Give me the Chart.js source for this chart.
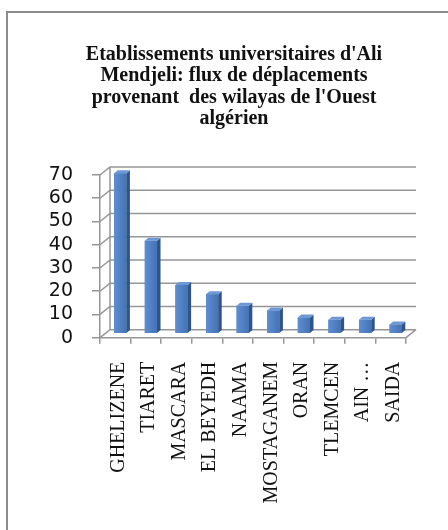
<!DOCTYPE html>
<html>
<head>
<meta charset="utf-8">
<script src="https://cdn.jsdelivr.net/npm/chart.js@4"></script>
<style>
  html, body { margin: 0; padding: 0; background: #fff; }
  canvas { display: block; }
</style>
</head>
<body>
<canvas id="chart" width="448" height="530"></canvas>
<script>
// data
const wilayas = ['GHELIZENE', 'TIARET', 'MASCARA', 'EL BEYEDH', 'NAAMA', 'MOSTAGANEM', 'ORAN', 'TLEMCEN', 'AIN …', 'SAIDA'];
const flux = [69, 40, 21, 17, 12, 10, 7, 6, 6, 4];
const yTicks = [0, 10, 20, 30, 40, 50, 60, 70];
const titleLines = [
    "Etablissements universitaires d'Ali",
    'Mendjeli: flux de déplacements',
    "provenant  des wilayas de l'Ouest",
    'algérien'
];

// 3D depth of the walls and of the bars
const DX = 10, DY = -8;
const BAR_DX = 3.5, BAR_DY = -3;
const GRID = '#969696';

const faux3d = {
    id: 'faux3d',
    beforeDraw(chart) {
        const ctx = chart.ctx;
        // outer frame (only left and top visible)
        ctx.save();
        ctx.fillStyle = '#8c8c8c';
        ctx.fillRect(6, 11, 2, chart.height - 11);
        ctx.fillRect(6, 11, chart.width - 6, 2);
        ctx.restore();
    },
    beforeDatasetsDraw(chart) {
        const { ctx, chartArea: a, scales: { y } } = chart;
        ctx.save();
        ctx.strokeStyle = GRID;
        ctx.lineWidth = 1.5;
        ctx.beginPath();
        yTicks.forEach(v => {
            const py = y.getPixelForValue(v);
            ctx.moveTo(a.left, py);
            ctx.lineTo(a.left + DX, py + DY);
            ctx.lineTo(a.right + DX, py + DY);
        });
        // back wall edge
        ctx.moveTo(a.left + DX, y.getPixelForValue(yTicks[yTicks.length - 1]) + DY);
        ctx.lineTo(a.left + DX, y.getPixelForValue(0) + DY);
        // floor right edge
        ctx.moveTo(a.right, y.getPixelForValue(0));
        ctx.lineTo(a.right + DX, y.getPixelForValue(0) + DY);
        ctx.stroke();
        ctx.restore();

        // bars sit halfway into the depth
        ctx.save();
        ctx.translate(DX / 2, DY / 2);
    },
    afterDatasetsDraw(chart) {
        const ctx = chart.ctx;
        const meta = chart.getDatasetMeta(0);
        meta.data.forEach(bar => {
            const l = bar.x - bar.width / 2, r = bar.x + bar.width / 2;
            const t = bar.y, b = bar.base;
            // front face with a little shading
            const g = ctx.createLinearGradient(l, 0, r, 0);
            g.addColorStop(0, '#5d8ed2');
            g.addColorStop(1, '#4573b4');
            ctx.fillStyle = g;
            ctx.fillRect(l, t, r - l, b - t);
            // side face
            ctx.fillStyle = '#2f5588';
            ctx.beginPath();
            ctx.moveTo(r, t);
            ctx.lineTo(r + BAR_DX, t + BAR_DY);
            ctx.lineTo(r + BAR_DX, b + BAR_DY);
            ctx.lineTo(r, b);
            ctx.closePath();
            ctx.fill();
            // top face
            ctx.fillStyle = '#6c99d6';
            ctx.beginPath();
            ctx.moveTo(l, t);
            ctx.lineTo(l + BAR_DX, t + BAR_DY);
            ctx.lineTo(r + BAR_DX, t + BAR_DY);
            ctx.lineTo(r, t);
            ctx.closePath();
            ctx.fill();
        });
        ctx.restore();
    }
};

new Chart(document.getElementById('chart'), {
    type: 'bar',
    data: {
        labels: wilayas,
        datasets: [{
            data: flux,
            backgroundColor: '#4f81bd',
            borderWidth: 0,
            categoryPercentage: 1,
            barPercentage: 0.4
        }]
    },
    options: {
        responsive: false,
        animation: false,
        events: [],
        layout: {
            padding: { left: 40, right: 20, top: 0, bottom: 0 }
        },
        plugins: {
            legend: { display: false },
            tooltip: { enabled: false },
            title: {
                display: true,
                text: titleLines,
                color: '#111111',
                font: { family: 'Liberation Serif', size: 20, weight: 'bold', lineHeight: 1.07 },
                padding: { top: 44, bottom: 45.4 }
            }
        },
        scales: {
            x: {
                grid: {
                    drawOnChartArea: false,
                    color: GRID,
                    lineWidth: 1.5,
                    tickLength: 6
                },
                border: { color: GRID, width: 1.5 },
                ticks: {
                    autoSkip: false,
                    minRotation: 90,
                    maxRotation: 90,
                    padding: 18,
                    labelOffset: 3,
                    color: '#111111',
                    font: { family: 'Liberation Serif', size: 20 }
                },
                afterFit: s => { s.height = 192.3; }
            },
            y: {
                min: 0,
                max: 70,
                grid: {
                    drawOnChartArea: false,
                    color: GRID,
                    lineWidth: 1.5,
                    tickLength: 8
                },
                border: { color: GRID, width: 1.5 },
                ticks: {
                    stepSize: 10,
                    autoSkip: false,
                    padding: 19,
                    color: '#111111',
                    font: { family: 'DejaVu Sans', size: 19 }
                },
                afterFit: s => { s.width = 60; }
            },
            y2: {
                position: 'right',
                grid: { display: false },
                border: { display: false },
                ticks: { display: false },
                afterFit: s => { s.width = 22; }
            }
        }
    },
    plugins: [faux3d]
});
</script>
</body>
</html>
